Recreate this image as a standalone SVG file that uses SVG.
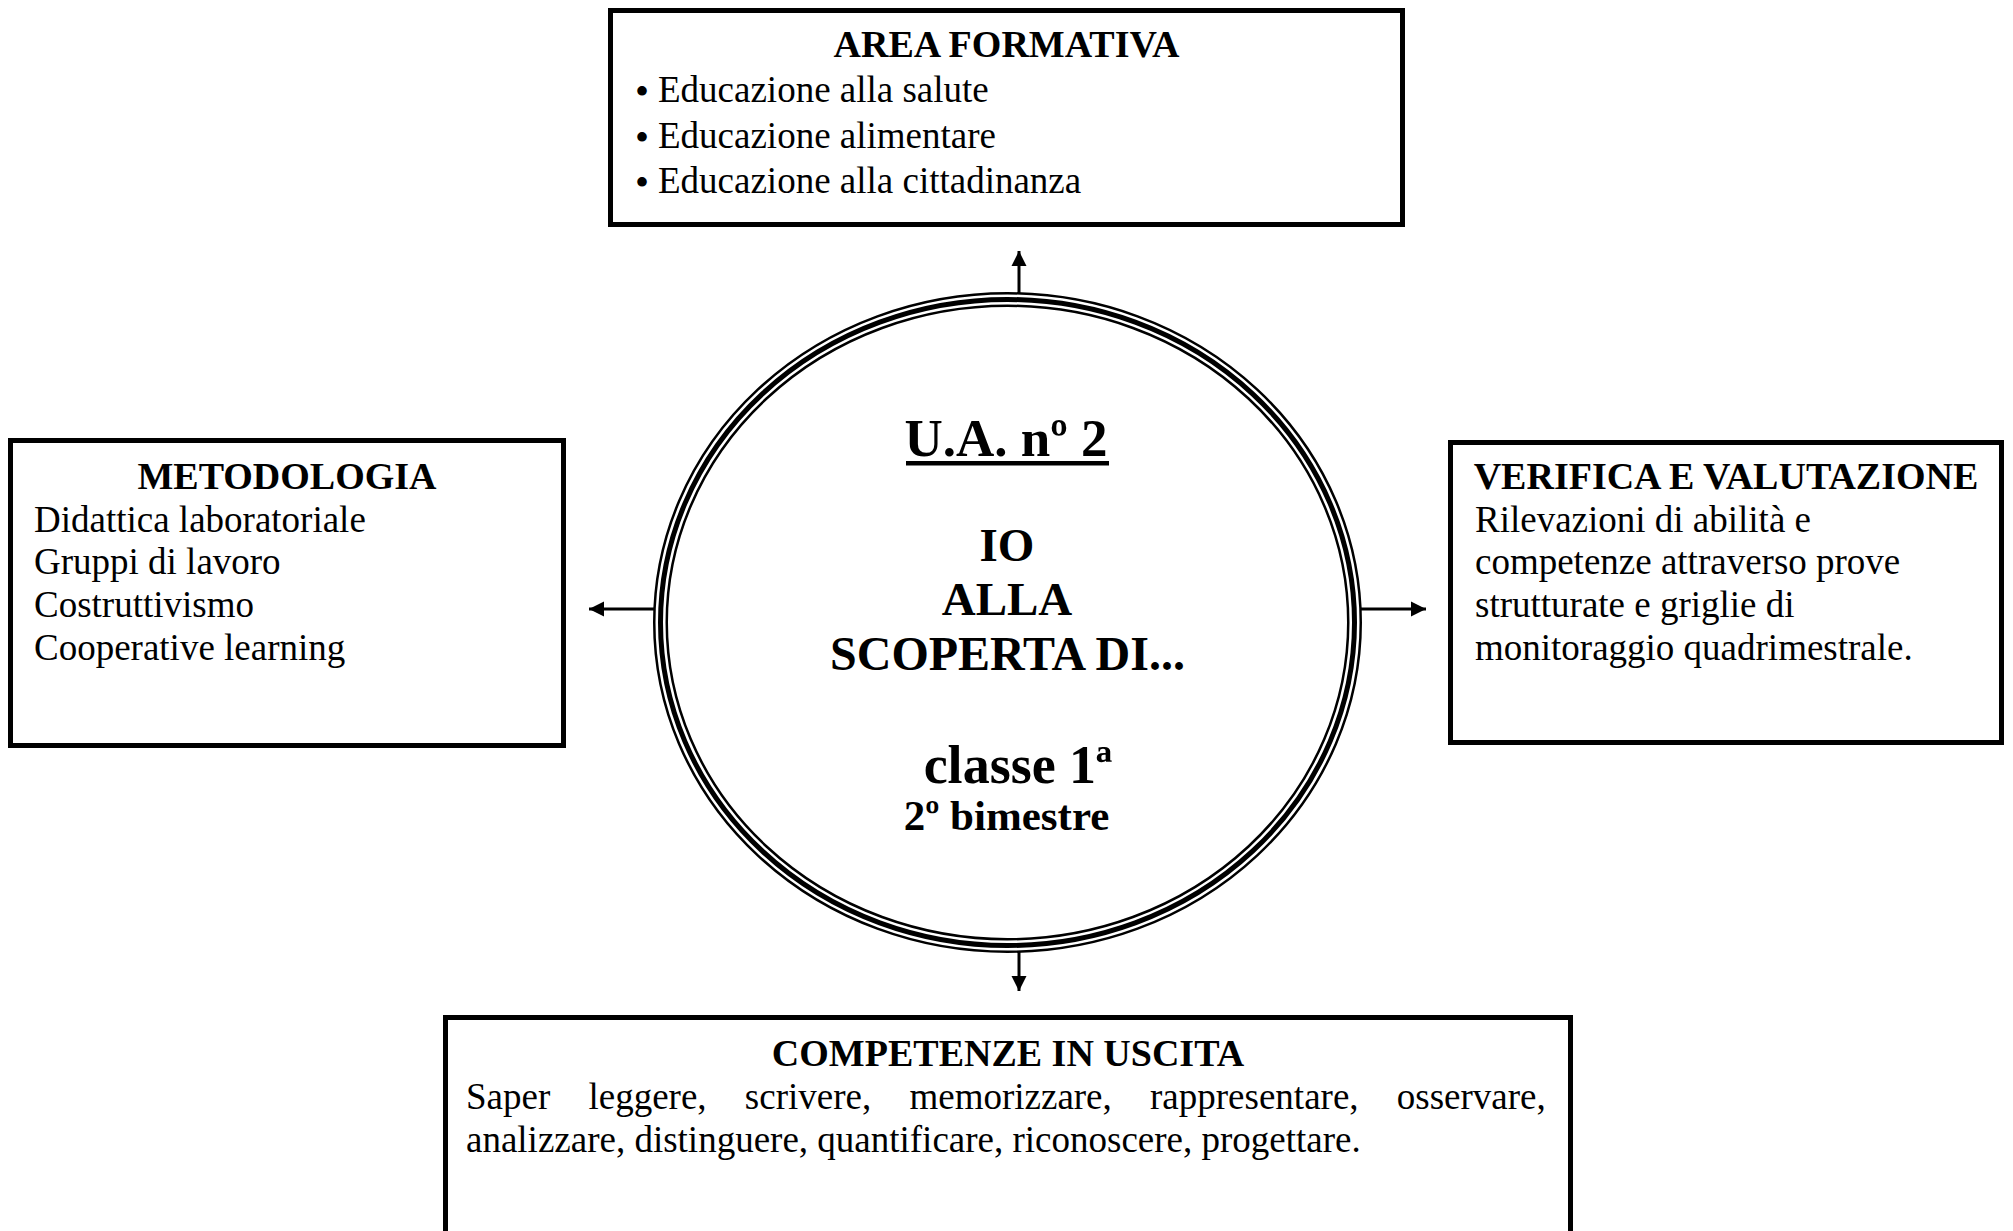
<svg xmlns="http://www.w3.org/2000/svg" width="2013" height="1231" viewBox="0 0 2013 1231">
<style>
text{font-family:"Liberation Serif","Times New Roman",serif;fill:#000}
.t{font-size:37px}
.b{font-size:38px;font-weight:bold}
.c{font-weight:bold;text-anchor:middle}
.bul{font-size:40px}
.box{fill:#fff;stroke:#000;stroke-width:5}
.ring{fill:none;stroke:#000}
.con{stroke:#000;stroke-width:3;fill:none;marker-end:url(#ah)}
</style>
<defs>
<marker id="ah" markerUnits="userSpaceOnUse" markerWidth="16" markerHeight="16" viewBox="0 0 16 16" refX="15" refY="8" orient="auto">
<path d="M0,0.5 L15,8 L0,15.5 Z" fill="#000"/>
</marker>
</defs>
<rect width="2013" height="1231" fill="#fff"/>

<g id="connectors">
<line class="con" x1="1019" y1="294" x2="1019" y2="251"/>
<line class="con" x1="654" y1="609" x2="589" y2="609"/>
<line class="con" x1="1361" y1="609" x2="1426" y2="609"/>
<line class="con" x1="1019" y1="952" x2="1019" y2="991"/>
</g>

<g id="area-formativa">
<rect class="box" x="610.5" y="10.5" width="792" height="214"/>
<text class="b" x="1006.5" y="57" text-anchor="middle">AREA FORMATIVA</text>
<text class="t" x="635" y="102"><tspan class="bul" dy="3">•</tspan><tspan x="658" dy="-3">Educazione alla salute</tspan></text>
<text class="t" x="635" y="148"><tspan class="bul" dy="3">•</tspan><tspan x="658" dy="-3">Educazione alimentare</tspan></text>
<text class="t" x="635" y="193"><tspan class="bul" dy="3">•</tspan><tspan x="658" dy="-3">Educazione alla cittadinanza</tspan></text>
</g>

<g id="metodologia">
<rect class="box" x="10.5" y="440.5" width="553" height="305"/>
<text class="b" x="287" y="489" text-anchor="middle">METODOLOGIA</text>
<text class="t" x="34" y="532">Didattica laboratoriale</text>
<text class="t" x="34" y="574">Gruppi di lavoro</text>
<text class="t" x="34" y="617">Costruttivismo</text>
<text class="t" x="34" y="660">Cooperative learning</text>
</g>

<g id="verifica">
<rect class="box" x="1450.5" y="442.5" width="551" height="300"/>
<text class="b" x="1726" y="489" text-anchor="middle">VERIFICA E VALUTAZIONE</text>
<text class="t" x="1475" y="532">Rilevazioni di abilità e</text>
<text class="t" x="1475" y="574">competenze attraverso prove</text>
<text class="t" x="1475" y="617">strutturate e griglie di</text>
<text class="t" x="1475" y="660">monitoraggio quadrimestrale.</text>
</g>

<g id="competenze">
<rect class="box" x="445.5" y="1017.5" width="1125" height="300"/>
<text class="b" x="1008" y="1066" text-anchor="middle">COMPETENZE IN USCITA</text>
<text class="t" x="466" y="1109" word-spacing="29">Saper leggere, scrivere, memorizzare, rappresentare, osservare,</text>
<text class="t" x="466" y="1152">analizzare, distinguere, quantificare, riconoscere, progettare.</text>
</g>

<g id="centro">
<ellipse class="ring" cx="1007.5" cy="622.5" rx="353.25" ry="329.25" stroke-width="2.5"/>
<ellipse class="ring" cx="1007.5" cy="622.5" rx="347" ry="323" stroke-width="5"/>
<ellipse class="ring" cx="1007.5" cy="622.5" rx="340.75" ry="316.75" stroke-width="2.5"/>
<text class="c" x="1006" y="456" font-size="53">U.A. nº 2</text>
<rect x="906" y="461" width="203" height="4.5" fill="#000"/>
<text class="c" x="1007" y="561" font-size="47">IO</text>
<text class="c" x="1007" y="615" font-size="47">ALLA</text>
<text class="c" x="1007.5" y="670" font-size="48">SCOPERTA DI...</text>
<text class="c" x="1018" y="783" font-size="54">classe 1ª</text>
<text class="c" x="1006.5" y="830" font-size="43">2º bimestre</text>
</g>
</svg>
